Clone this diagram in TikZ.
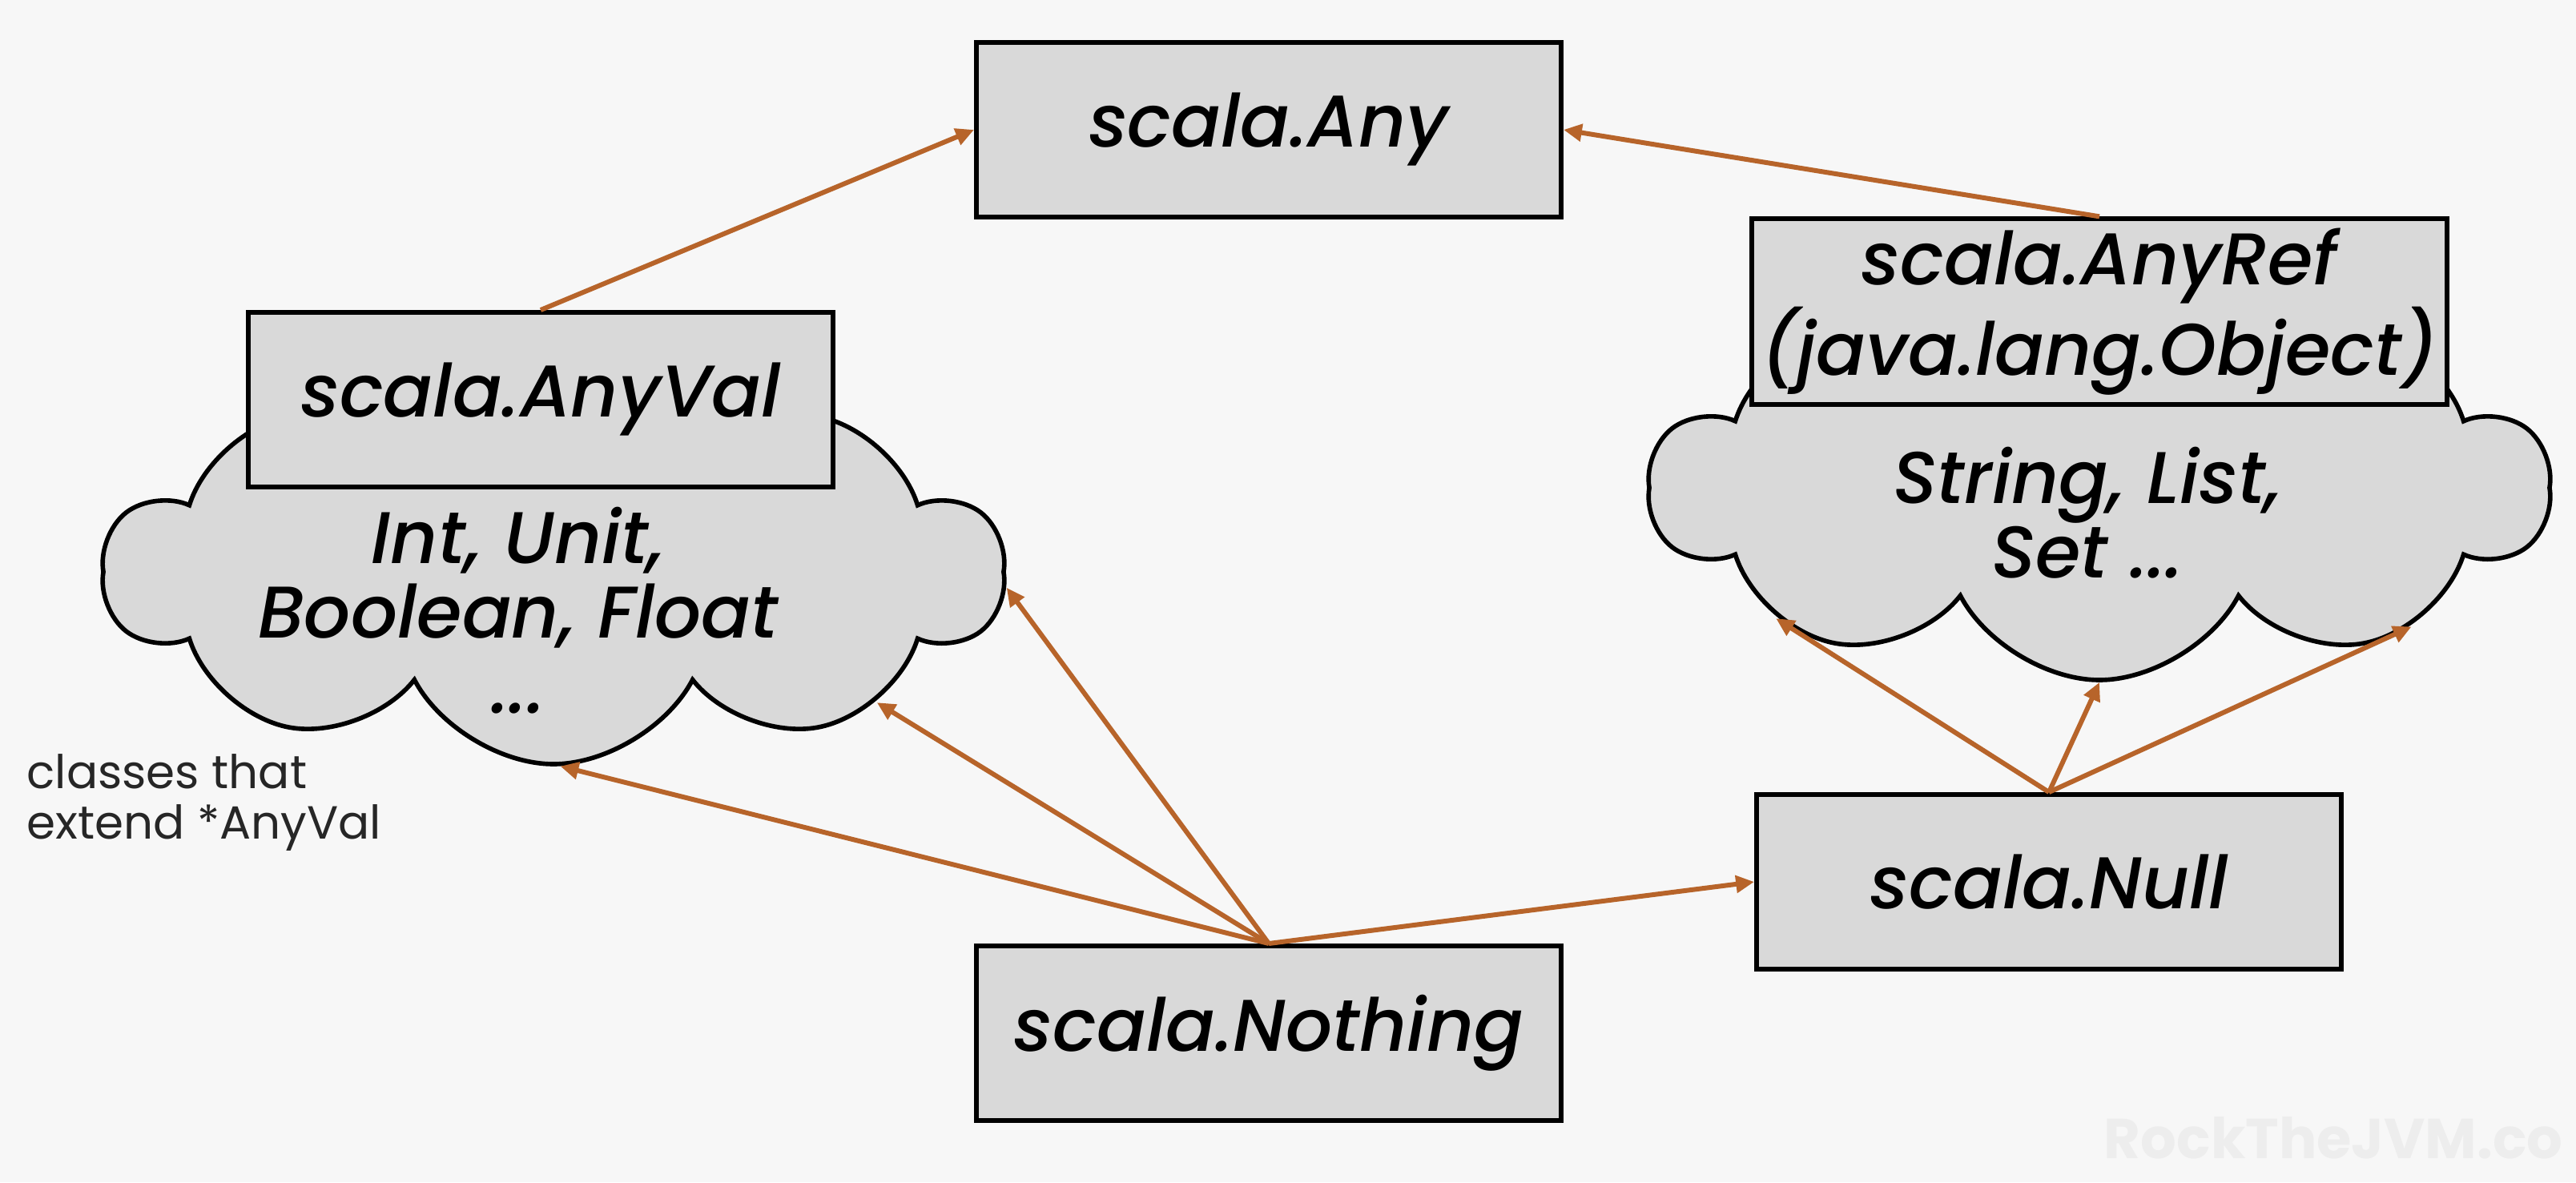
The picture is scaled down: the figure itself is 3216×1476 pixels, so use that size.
\documentclass[tikz,border=0pt]{standalone}
\usepackage{fontspec}
\setmainfont{Poppins}
\newfontfamily\boxfont{Poppins Medium Italic}
\usetikzlibrary{positioning,shapes.symbols,arrows.meta}
\definecolor{bgcol}{HTML}{F7F7F7}
\definecolor{boxfill}{HTML}{D9D9D9}
\definecolor{linkcol}{HTML}{B7642A}

\begin{document}
\begin{tikzpicture}[
            x=0.1mm, y=-0.1mm,
            box/.style={rectangle, draw, line width=1.7pt, fill=boxfill, minimum width=73mm, minimum height=21.8mm, align=center, font=\boxfont\fontsize{26}{27}\selectfont},
            cloudy/.style={cloud, draw, line width=1.6pt, fill=boxfill, cloud puffs=10, cloud puff arc=125, cloud ignores aspect, minimum width=112.2mm, minimum height=48mm, inner sep=0pt},
            members/.style={align=center, font=\boxfont\fontsize{26}{26.5}\selectfont},
            link/.style={-{Triangle[length=6.5pt,width=6pt]}, line width=1.7pt, draw=linkcol, fill=linkcol},
            note/.style={align=left, inner sep=0pt, font=\fontsize{16.5}{18}\selectfont, text=black!85},
        ]

        \useasboundingbox (0,0) rectangle (3216,1476);
        \fill[bgcol] (0,0) rectangle (3216,1476);

        % Clouds of subclasses
        \node[cloudy] (valcloud) at (691,714) {};
        \node[cloudy] (refcloud) at (2621,609) {};
        \node[members] (vals) at (647,762) {Int, Unit,\\Boolean, Float\\...};
        \node[members] (refs) at (2606,640) {String, List,\\Set ...};

        % Type boxes
        \node[box] (any) at (1584,162) {scala.Any};
        \node[box] (anyval) at (675,499) {scala.AnyVal};
        \node[box, minimum width=86mm] (anyref) at (2621,389) {scala.AnyRef\\(java.lang.Object)};
        \node[box] (null) at (2558,1101) {scala.Null};
        \node[box] (nothing) at (1584,1290) {scala.Nothing};

        % Links to the top type
        \draw[link] (anyval.north) -- (any.west);
        \draw[link] (anyref.north) -- (any.east);

        % Links from the bottom types
        \foreach \a in {-88,-22,-2}
        \draw[link] (nothing.north) -- (valcloud.\a);
        \draw[link] (nothing.north) -- (null.west);
        \foreach \a in {-158,-90,-24}
        \draw[link] (null.north) -- (refcloud.\a);

        % Side note and watermark
        \node[note, anchor=north west] (remark) at (33,941) {classes that\\extend *AnyVal};
        \node[anchor=south east, inner sep=0pt, text=black!7, font=\bfseries\fontsize{20}{20}\selectfont] (mark) at (3200,1448) {RockTheJVM.co};

    \end{tikzpicture}
\end{document}
